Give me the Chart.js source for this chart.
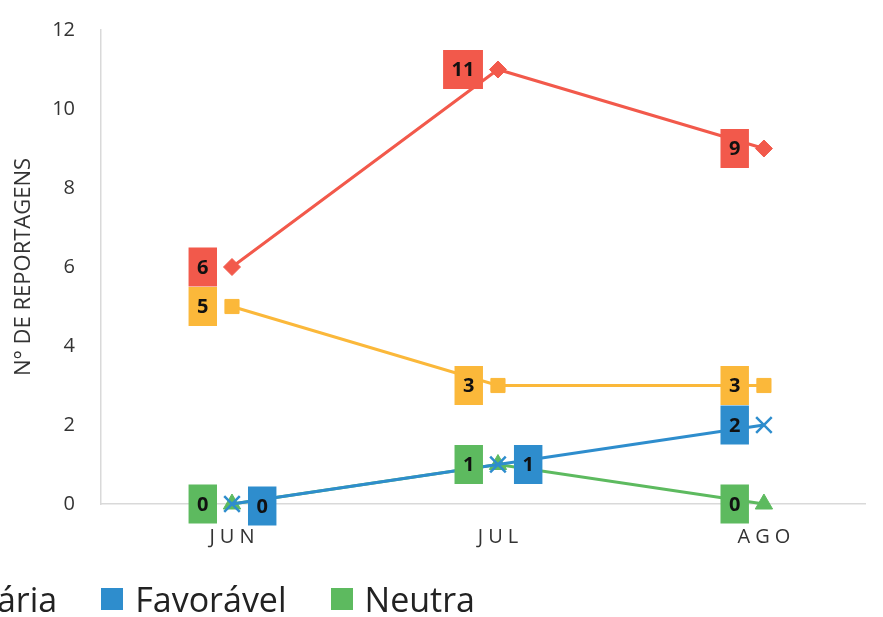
<!DOCTYPE html>
<html>
<head>
<meta charset="utf-8">
<script src="https://cdn.jsdelivr.net/npm/chart.js@4"></script>
<style>
  html, body { margin: 0; padding: 0; background: #fff; overflow: hidden; }
  #wrap { position: relative; width: 883px; height: 617px; }
  #legend {
    position: absolute; right: 408px; top: 576px;
    display: flex; align-items: center; white-space: nowrap;
    font-family: "Open Sans", sans-serif; font-size: 34px; color: #222;
  }
  #legend .item { display: flex; align-items: center; margin-left: 44px; }
  #legend .sw { width: 22px; height: 22px; margin-right: 12px; }
</style>
</head>
<body>
<div id="wrap">
  <canvas id="c" width="883" height="617"></canvas>
  <div id="legend"></div>
</div>
<script>
// Months and monthly counts of news reports per tone
const months = ["JUN", "JUL", "AGO"];
const desfavoravel = [6, 11, 9];
const contraria = [5, 3, 3];
const favoravel = [0, 1, 2];
const neutra = [0, 1, 0];
const yTicks = [0, 2, 4, 6, 8, 10, 12];

const RED = "#F2594B", YELLOW = "#FBB83A", BLUE = "#2E8DCD", GREEN = "#5DBA5F";

const toPoints = arr => arr.map((v, i) => ({ x: i, y: v }));

function series(label, values, color, style, radius, sides) {
  return {
    label, data: toPoints(values),
    borderColor: color, backgroundColor: color,
    borderWidth: 3, pointStyle: style, pointRadius: radius, pointHoverRadius: radius,
    pointBorderWidth: style === "crossRot" ? 2.5 : 1,
    pointBackgroundColor: color, pointBorderColor: color,
    tension: 0, clip: false, labelSides: sides
  };
}

// Boxed value labels next to each point
const valueBoxes = {
  id: "valueBoxes",
  afterDatasetsDraw(chart) {
    const ctx = chart.ctx;
    ctx.save();
    ctx.font = "bold 20px 'Noto Sans', sans-serif";
    ctx.textAlign = "center";
    ctx.textBaseline = "middle";
    // draw from last dataset to first so the first series sits on top
    for (let d = chart.data.datasets.length - 1; d >= 0; d--) {
      const ds = chart.data.datasets[d];
      const meta = chart.getDatasetMeta(d);
      meta.data.forEach((pt, i) => {
        const txt = String(ds.data[i].y);
        const w = ctx.measureText(txt).width + 17;
        const h = 39;
        const side = ds.labelSides[i];
        const cx = side === "left" ? pt.x - 15 - w / 2 : pt.x + 16 + w / 2;
        const cy = pt.y + (ds.data[i].y === 0 && side === "right" ? 2 : 0);
        ctx.fillStyle = ds.borderColor;
        ctx.fillRect(cx - w / 2, cy - h / 2, w, h);
        ctx.fillStyle = "#111";
        ctx.fillText(txt, cx, cy + 1);
      });
    }
    ctx.restore();
  }
};

const datasets = [
  series("Desfavorável", desfavoravel, RED, "rectRot", 8.5, ["left", "left", "left"]),
  series("Contrária", contraria, YELLOW, "rect", 10, ["left", "left", "left"]),
  series("Favorável", favoravel, BLUE, "crossRot", 11, ["right", "right", "left"]),
  series("Neutra", neutra, GREEN, "triangle", 10, ["left", "left", "left"])
];

new Chart(document.getElementById("c"), {
  type: "line",
  data: { datasets },
  plugins: [valueBoxes],
  options: {
    responsive: false,
    animation: false,
    layout: { autoPadding: false, padding: { top: 30, right: 18, bottom: 63, left: 0 } },
    plugins: { legend: { display: false }, tooltip: { enabled: false } },
    scales: {
      x: {
        type: "linear",
        min: -0.4925, max: 2.38,
        grid: { display: false, drawTicks: false },
        border: { display: true, color: "#d9d9d9", width: 1.5 },
        afterBuildTicks: s => { s.ticks = months.map((_, i) => ({ value: i })); },
        afterFit: s => { s.height = 50; s.paddingLeft = 0; s.paddingRight = 0; },
        afterUpdate: s => {
          if (!s._spaced) {
            const orig = s.drawLabels.bind(s);
            s.drawLabels = function (area) {
              const c = this.ctx; c.save(); c.letterSpacing = "5px";
              c.translate(2.5, 0); orig(area); c.restore();
            };
            s._spaced = true;
          }
        },
        ticks: {
          padding: 21,
          color: "#333",
          font: { family: "'Open Sans', sans-serif", size: 20 },
          callback: v => months[v]
        }
      },
      y: {
        min: 0, max: 12,
        grid: { display: false, drawTicks: false },
        border: { display: true, color: "#d9d9d9", width: 1.5 },
        afterBuildTicks: s => { s.ticks = yTicks.map(v => ({ value: v })); },
        afterFit: s => { s.width = 101; s.paddingTop = 0; s.paddingBottom = 0; },
        ticks: {
          padding: 26,
          color: "#333",
          font: { family: "'Open Sans', sans-serif", size: 20 }
        },
        title: {
          display: true,
          text: "N° DE REPORTAGENS",
          color: "#333",
          font: { family: "'Open Sans', sans-serif", size: 22 },
          padding: { top: 11, bottom: 0 }
        }
      }
    }
  }
});

// Legend row beneath the plot
const legend = document.getElementById("legend");
datasets.forEach(ds => {
  const item = document.createElement("div");
  item.className = "item";
  const sw = document.createElement("span");
  sw.className = "sw";
  sw.style.background = ds.borderColor;
  const t = document.createElement("span");
  t.textContent = ds.label;
  item.appendChild(sw); item.appendChild(t);
  legend.appendChild(item);
});
</script>
</body>
</html>
